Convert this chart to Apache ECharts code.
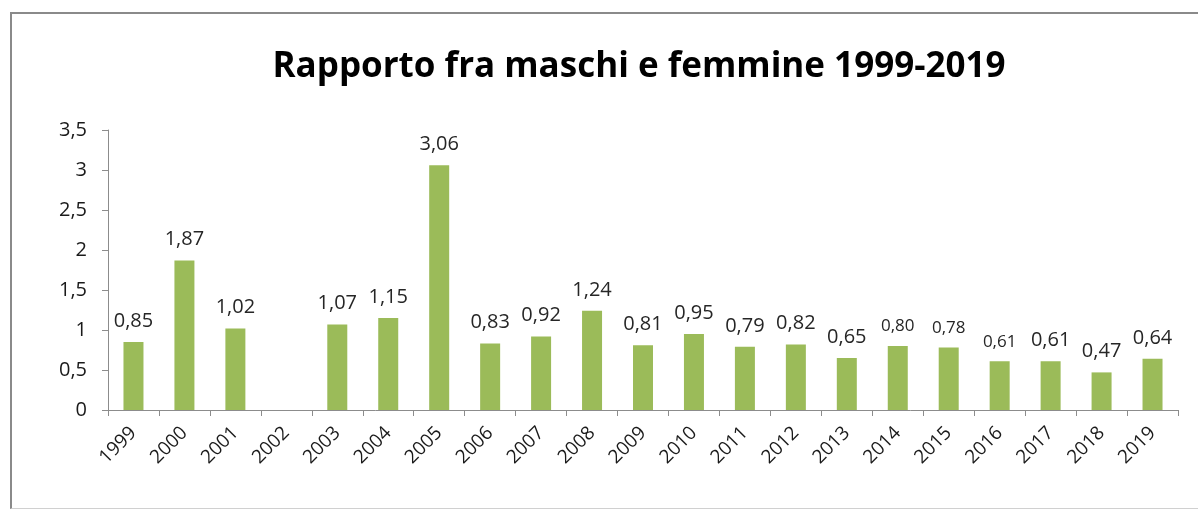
<!DOCTYPE html>
<html><head><meta charset="utf-8">
<script src="https://cdn.jsdelivr.net/npm/echarts@6/dist/echarts.min.js"></script>
<style>
html,body{margin:0;padding:0;background:#fff;}
#frame{position:absolute;left:10px;top:12px;width:1200px;height:494px;border-left:2px solid #8a8a8a;border-top:2px solid #8a8a8a;border-bottom:1px solid #d0d0d0;}
#c{position:absolute;left:0;top:0;width:1198px;height:509px;}
</style></head>
<body>
<div id="frame"></div>
<div id="c"></div>
<script>
const title = 'Rapporto fra maschi e femmine 1999-2019';
const years = ['1999','2000','2001','2002','2003','2004','2005','2006','2007','2008','2009','2010','2011','2012','2013','2014','2015','2016','2017','2018','2019'];
const ratios = [0.85,1.87,1.02,null,1.07,1.15,3.06,0.83,0.92,1.24,0.81,0.95,0.79,0.82,0.65,0.80,0.78,0.61,0.61,0.47,0.64];
const smallLabelYears = ['2014','2015','2016'];
const yTicks = [0,0.5,1,1.5,2,2.5,3,3.5];

const fmt = v => v.toFixed(2).replace('.', ',');
const chart = echarts.init(document.getElementById('c'));
chart.setOption({
  animation:false,
  title:{text:title,left:634,top:45,textAlign:'center',textStyle:{fontFamily:'Open Sans',fontWeight:'bold',fontSize:35,color:'#000'}},
  grid:{left:108,right:20,top:130,bottom:99},
  xAxis:{type:'category',data:years,
    axisLine:{lineStyle:{color:'#8c8c8c',width:1}},
    axisTick:{show:true,length:6,alignWithLabel:false,lineStyle:{color:'#8c8c8c'}},
    axisLabel:{rotate:45,fontFamily:'Open Sans',fontSize:19,color:'#1a1a1a',margin:20,interval:0}},
  yAxis:{type:'value',min:0,max:yTicks[yTicks.length-1],interval:0.5,
    splitLine:{show:false},
    axisLine:{show:true,lineStyle:{color:'#8c8c8c'}},
    axisTick:{show:true,length:6,lineStyle:{color:'#8c8c8c'}},
    axisLabel:{fontFamily:'Open Sans',fontSize:20,color:'#1a1a1a',margin:21,
      formatter:v=>String(v).replace('.',',')}},
  series:[{type:'bar',barWidth:20,
    data:ratios.map((v,i)=>v===null?null:{value:v,label:{fontSize:smallLabelYears.includes(years[i])?17:20}}),
    itemStyle:{color:'#9bbb59'},
    label:{show:true,position:'top',distance:11,fontFamily:'Open Sans',fontSize:20,color:'#262626',
      formatter:p=>p.value==null?'':fmt(p.value)}}]
});
</script>
</body></html>
